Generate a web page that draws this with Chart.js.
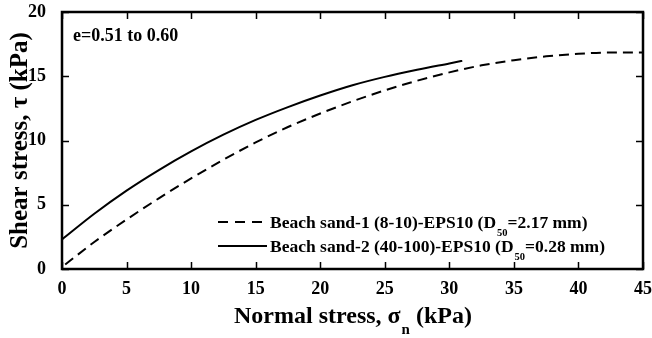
<!DOCTYPE html>
<html><head><meta charset="utf-8">
<script src="https://cdn.jsdelivr.net/npm/chart.js@4.4.1/dist/chart.umd.min.js"></script>
<style>html,body{margin:0;padding:0;background:#fff;overflow:hidden}#wrap{width:652px;height:338px}</style>
</head><body><div id="wrap"><canvas id="c" width="652" height="338"></canvas></div>
<script>
// ---- data ----
const sand1X = [0.25, 2.5, 5, 7.5, 10, 12.5, 15, 17.5, 20, 22.5, 25, 27.5, 30, 32.5, 35, 37.5, 40, 42.5, 45];
const sand1Y = [0.35, 2.1, 3.85, 5.5, 7.05, 8.5, 9.85, 11.05, 12.1, 13.05, 13.9, 14.65, 15.3, 15.85, 16.25, 16.55, 16.75, 16.85, 16.85];
const sand2X = [0, 2.5, 5, 7.5, 10, 12.5, 15, 17.5, 20, 22.5, 25, 27.5, 30, 31];
const sand2Y = [2.3, 4.3, 6.1, 7.7, 9.15, 10.45, 11.6, 12.6, 13.5, 14.3, 14.95, 15.5, 16.0, 16.2];
const xTicks = [0, 5, 10, 15, 20, 25, 30, 35, 40, 45];
const yTicks = [0, 5, 10, 15, 20];
const legend1 = ["Beach sand-1 (8-10)-EPS10 (D", "50", "=2.17 mm)"];
const legend2 = ["Beach sand-2 (40-100)-EPS10 (D", "50", "=0.28 mm)"];
const xTitle = ["Normal stress, σ", "n", " (kPa)"];
const yTitle = "Shear stress, τ (kPa)";
const annotationText = "e=0.51 to 0.60";

const SERIF = "'Liberation Serif', 'Times New Roman', serif";
const toPts = (xs, ys) => xs.map((v, i) => ({x: v, y: ys[i]}));
const legendParts = [legend1, legend2];

// draws main text + lowered small text + main text; y is baseline of main text
function drawSub(ctx, parts, x, y, big, small, drop, align) {
  ctx.font = `bold ${big}px ${SERIF}`;
  const w0 = ctx.measureText(parts[0]).width;
  const w2 = ctx.measureText(parts[2]).width;
  ctx.font = `bold ${small}px ${SERIF}`;
  const w1 = ctx.measureText(parts[1]).width;
  let sx = x;
  if (align === 'center') sx = x - (w0 + w1 + w2) / 2;
  ctx.textAlign = 'left';
  ctx.textBaseline = 'alphabetic';
  ctx.font = `bold ${big}px ${SERIF}`;
  ctx.fillText(parts[0], sx, y);
  ctx.font = `bold ${small}px ${SERIF}`;
  ctx.fillText(parts[1], sx + w0 + 1, y + drop);
  ctx.font = `bold ${big}px ${SERIF}`;
  ctx.fillText(parts[2], sx + w0 + w1 + 1, y);
}

const deco = {
  id: 'deco',
  afterDraw(chart) {
    const {ctx, chartArea: a, scales: {x, y}} = chart;
    const TL = 7;
    ctx.save();
    ctx.strokeStyle = '#000';
    ctx.lineWidth = 1.5;
    ctx.beginPath();
    xTicks.forEach(v => {
      const p = Math.round(x.getPixelForValue(v)) + 0.5;
      ctx.moveTo(p, a.bottom); ctx.lineTo(p, a.bottom - TL);
      ctx.moveTo(p, a.top); ctx.lineTo(p, a.top + TL);
    });
    yTicks.forEach(v => {
      const p = Math.round(y.getPixelForValue(v)) + 0.5;
      ctx.moveTo(a.left, p); ctx.lineTo(a.left + TL, p);
      ctx.moveTo(a.right, p); ctx.lineTo(a.right - TL, p);
    });
    ctx.stroke();
    ctx.lineWidth = 2.5;
    ctx.strokeRect(a.left, a.top, a.right - a.left, a.bottom - a.top);

    ctx.fillStyle = '#000';
    ctx.font = `bold 18px ${SERIF}`;
    ctx.textAlign = 'left';
    ctx.textBaseline = 'middle';
    ctx.fillText(annotationText, a.left + 11, a.top + 24);

    // legend
    chart.data.datasets.forEach((ds, i) => {
      const ly = a.bottom - 47 + i * 24;
      ctx.save();
      ctx.lineWidth = 2;
      ctx.setLineDash(ds.borderDash ? [10, 7] : []);
      ctx.beginPath();
      ctx.moveTo(a.left + 156, ly);
      ctx.lineTo(a.left + 205, ly);
      ctx.stroke();
      ctx.restore();
      drawSub(ctx, legendParts[i], a.left + 208, ly + 6, 17.5, 10.5, 8, 'left');
    });

    // x title
    drawSub(ctx, xTitle, (a.left + a.right) / 2, 323, 24, 15, 11, 'center');
    ctx.restore();
  }
};

new Chart(document.getElementById('c'), {
  type: 'line',
  data: {
    datasets: [
      {label: legend1.join(''), data: toPts(sand1X, sand1Y), borderColor: '#000', borderWidth: 2,
       borderDash: [10, 6], pointRadius: 0, cubicInterpolationMode: 'monotone', fill: false},
      {label: legend2.join(''), data: toPts(sand2X, sand2Y), borderColor: '#000', borderWidth: 2,
       pointRadius: 0, cubicInterpolationMode: 'monotone', fill: false}
    ]
  },
  options: {
    responsive: false,
    animation: false,
    devicePixelRatio: 1,
    layout: {padding: {left: 0, right: 9, top: 12, bottom: 0}},
    plugins: {legend: {display: false}, tooltip: {enabled: false}},
    scales: {
      x: {
        type: 'linear', min: 0, max: 45,
        grid: {display: false}, border: {display: false},
        ticks: {stepSize: 5, color: '#000', padding: 2, font: {family: SERIF, size: 18, weight: 'bold'}},
        afterFit(s) { s.height = 69; s.paddingLeft = 0; s.paddingRight = 0; }
      },
      y: {
        type: 'linear', min: 0, max: 20,
        grid: {display: false}, border: {display: false},
        ticks: {stepSize: 5, color: '#000', padding: 8, font: {family: SERIF, size: 18, weight: 'bold'}},
        title: {display: true, text: yTitle, color: '#000', padding: {top: 6, bottom: 0},
                font: {family: SERIF, size: 25, weight: 'bold'}},
        afterFit(s) { s.width = 62; s.paddingTop = 0; s.paddingBottom = 0; }
      }
    }
  },
  plugins: [deco]
});
</script>
</body></html>
